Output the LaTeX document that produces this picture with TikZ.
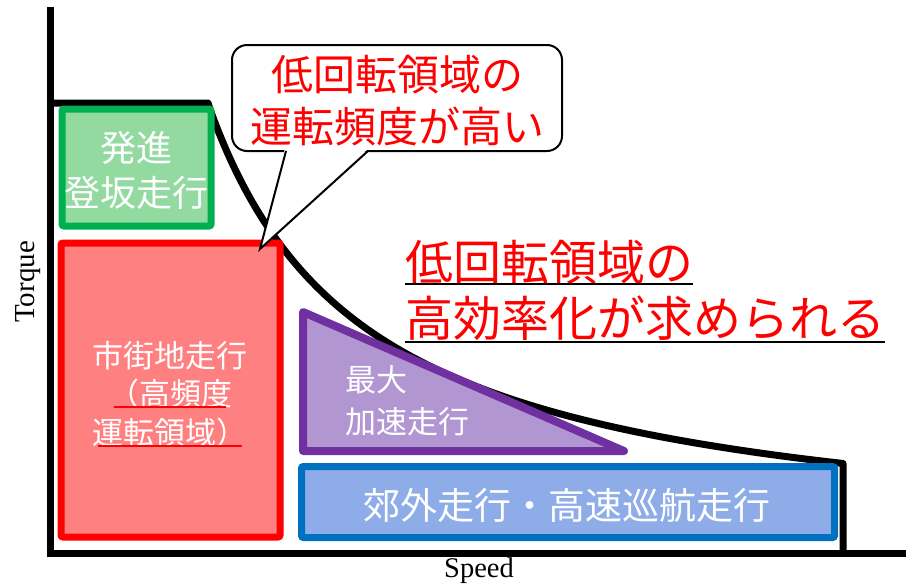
\documentclass[tikz,border=0pt]{standalone}
\usepackage{fontspec}
\setmainfont{Liberation Serif}
\newfontfamily\jp{Noto Sans CJK JP}
\definecolor{grnB}{RGB}{0,176,80}
\definecolor{grnF}{RGB}{146,218,160}
\definecolor{redB}{RGB}{255,0,0}
\definecolor{redF}{RGB}{255,128,128}
\definecolor{purB}{RGB}{112,48,160}
\definecolor{purF}{RGB}{177,150,210}
\definecolor{bluB}{RGB}{0,112,192}
\definecolor{bluF}{RGB}{142,172,232}
\begin{document}
\begin{tikzpicture}[x=1pt,y=-1pt,
  zone/.style={rectangle, rounded corners=2, line width=7, inner sep=0},
  wlab/.style={text=white, align=center, inner sep=0},
  rlab/.style={text=red, align=left, inner sep=0, anchor=west},
  axislab/.style={inner sep=0, font=\fontsize{29}{30}\selectfont},
  heavy/.style={line width=7}]
\useasboundingbox (0,0) rectangle (906,587);
% axes
\draw[heavy] (50,7) -- (50,553) -- (906,553);
% torque curve
\draw[heavy, line join=round] (50,103) -- (208,103)
  -- plot[domain=210:843, samples=150] (\x,{553-710/((\x-50)/100)}) -- (843,553);
% zones
\node[zone, draw=grnB, fill=grnF, minimum width=149, minimum height=117] (green) at (136.5,167.5) {};
\node[wlab, font=\jp\fontsize{36}{45}\selectfont] (greentxt) at (136.5,170) {発進\\登坂走行};
\node[zone, draw=redB, fill=redF, minimum width=219, minimum height=294] (redbox) at (170.5,390) {};
\node[wlab, font=\jp\fontsize{31}{38.5}\selectfont] (redtxt) at (170,394) {市街地走行\\（高頻度\\運転領域）};
\draw[red, line width=1.5] (114,407) -- (226,407);
\draw[red, line width=1.5] (98,446) -- (242,446);
\draw[line width=8, draw=purB, fill=purF, line join=round] (303,312) -- (303,451) -- (624,451) -- cycle;
\node[wlab, align=left, anchor=west, font=\jp\fontsize{31}{42}\selectfont] (purtxt) at (345,401) {最大\\加速走行};
\node[zone, draw=bluB, fill=bluF, minimum width=533, minimum height=71] (blue) at (568,502) {};
\node[wlab, font=\jp\fontsize{37}{40}\selectfont] (bluetxt) at (567,505) {郊外走行・高速巡航走行};
% big conclusion text
\node[rlab, font=\jp\fontsize{48}{50}\selectfont] (concl1) at (405,262) {低回転領域の};
\node[rlab, font=\jp\fontsize{48}{50}\selectfont] (concl2) at (405,318) {高効率化が求められる};
\draw[line width=2.5] (405,284) -- (693,284);
\draw[line width=2.5] (405,342) -- (885,342);
% callout
\node[rectangle, rounded corners=15, draw, line width=2, fill=white, minimum width=330, minimum height=106] (bubble) at (397,98) {};
\fill[white] (285,148) -- (260,249) -- (369,148) -- cycle;
\draw[line width=2, line join=miter] (286,151) -- (260,249) -- (368,151);
\node[text=red, align=center, inner sep=0, font=\jp\fontsize{42}{52}\selectfont] (bubtxt) at (397,101) {低回転領域の\\運転頻度が高い};
% axis labels
\node[axislab, rotate=90] (torque) at (28,282) {Torque};
\node[axislab, font=\fontsize{28.5}{30}\selectfont] (speed) at (479,571) {Speed};
\end{tikzpicture}
\end{document}
